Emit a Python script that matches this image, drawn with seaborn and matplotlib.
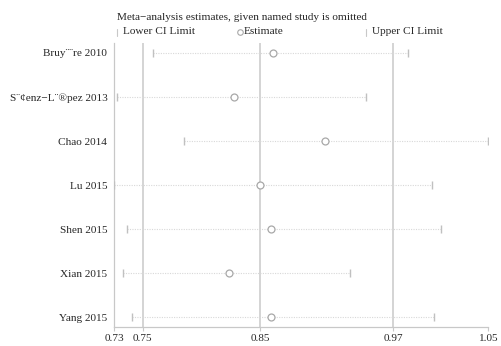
import matplotlib
matplotlib.use("Agg")
import matplotlib.pyplot as plt
import seaborn as sns
import pandas as pd

studies = ["Bruy¨¨re 2010", "S¨¢enz−L¨®pez 2013", "Chao 2014", "Lu 2015",
           "Shen 2015", "Xian 2015", "Yang 2015"]
estimate = [0.865, 0.831, 0.911, 0.854, 0.864, 0.827, 0.864]
lower_ci = [0.760, 0.728, 0.787, 0.7255, 0.737, 0.733, 0.741]
upper_ci = [0.984, 0.947, 1.0545, 1.005, 1.013, 0.933, 1.007]
ref_lines = [0.7506, 0.854, 0.9712]
tick_values = [0.7255, 0.7506, 0.854, 0.9712, 1.0545]
tick_labels = ["0.73", "0.75", "0.85", "0.97", "1.05"]

df = pd.DataFrame({"study": studies, "est": estimate, "lo": lower_ci, "hi": upper_ci})
df["pos"] = range(len(df))

sns.set_theme(style="white")
plt.rcParams["font.family"] = ["Liberation Serif", "DejaVu Serif"]
FS = 8.1

fig = plt.figure(figsize=(5.02, 3.46), dpi=100)
ax = fig.add_axes([0.2277, 0.0537, 0.7438, 0.8220])

grey_line = "#d4d4d4"
for v in ref_lines:
    ax.axvline(v, color=grey_line, lw=1.4, zorder=1)

ax.hlines(df["pos"], df["lo"], df["hi"], color="#d8d8d8", lw=0.8,
          linestyles=(0, (1, 1.2)), zorder=2)
sns.scatterplot(data=df, x="lo", y="pos", marker="|", s=28, color="#c0c0c0",
                linewidth=1.0, ax=ax, zorder=3, legend=False)
sns.scatterplot(data=df, x="hi", y="pos", marker="|", s=28, color="#c0c0c0",
                linewidth=1.0, ax=ax, zorder=3, legend=False)
sns.scatterplot(data=df, x="est", y="pos", marker="o", s=25, facecolor="white",
                edgecolor="#a8a8a8", linewidth=0.9, ax=ax, zorder=4, legend=False)

ax.set_xlim(tick_values[0], tick_values[-1])
ax.set_ylim(len(df) - 1 + 0.226, -0.226)
ax.set_xticks(tick_values)
ax.set_xticklabels(tick_labels)
ax.set_yticks(df["pos"])
ax.set_yticklabels(df["study"])
ax.set_xlabel("")
ax.set_ylabel("")
ax.tick_params(axis="x", direction="out", length=3, color="#c8c8c8", width=0.8,
               labelsize=FS, pad=2, bottom=True)
ax.tick_params(axis="y", length=0, labelsize=FS, pad=5)
for side in ["top", "right"]:
    ax.spines[side].set_visible(False)
for side in ["left", "bottom"]:
    ax.spines[side].set_color("#c8c8c8")
    ax.spines[side].set_linewidth(0.9)

# legend header
fig.text(117 / 502, 1 - 17 / 346, "Meta−analysis estimates, given named study is omitted",
         fontsize=FS, va="center", ha="left")
fig.lines.append(plt.Line2D([117 / 502, 117 / 502], [1 - 28.5 / 346, 1 - 35.5 / 346],
                            transform=fig.transFigure, color="#c8c8c8", lw=0.8))
fig.text(123 / 502, 1 - 32 / 346, "Lower CI Limit", fontsize=FS, va="center", ha="left")
fig.lines.append(plt.Line2D([240 / 502], [1 - 32 / 346], transform=fig.transFigure,
                            marker="o", ms=4, mfc="white", mec="#a8a8a8", mew=0.8, lw=0))
fig.text(243.5 / 502, 1 - 32 / 346, "Estimate", fontsize=FS, va="center", ha="left")
fig.lines.append(plt.Line2D([366 / 502, 366 / 502], [1 - 28.5 / 346, 1 - 35.5 / 346],
                            transform=fig.transFigure, color="#c8c8c8", lw=0.8))
fig.text(372 / 502, 1 - 32 / 346, "Upper CI Limit", fontsize=FS, va="center", ha="left")

fig.savefig("out.png", dpi=100, facecolor="white")
